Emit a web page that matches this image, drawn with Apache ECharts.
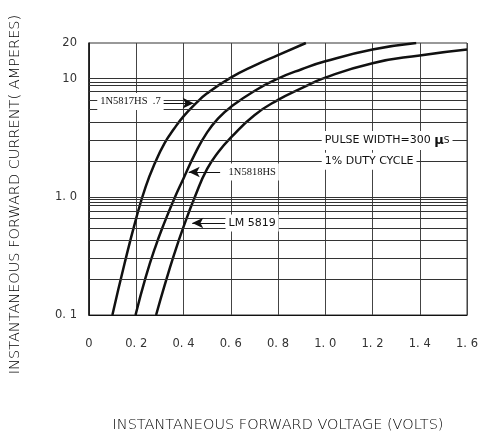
<!DOCTYPE html>
<html><head><meta charset="utf-8">
<script src="https://cdn.jsdelivr.net/npm/echarts@6/dist/echarts.min.js"></script>
<style>html,body{margin:0;padding:0;background:#fff}#c{width:481px;height:438px}</style>
</head><body><div id="c"></div>
<script>
// ---- data ----
const seriesNames = ['1N5817HS', '1N5818HS', 'LM 5819'];
const v1817 = [0.099, 0.15, 0.20, 0.24, 0.28, 0.32, 0.36, 0.40, 0.45, 0.50, 0.60, 0.70, 0.80, 0.918];
const i1817 = [0.10, 0.27, 0.66, 1.22, 1.95, 2.85, 3.76, 4.79, 6.1, 7.5, 10.2, 12.9, 15.8, 20];
const v1818 = [0.197, 0.24, 0.28, 0.32, 0.36, 0.40, 0.45, 0.50, 0.55, 0.60, 0.70, 0.80, 0.90, 1.0, 1.2, 1.385];
const i1818 = [0.10, 0.209, 0.372, 0.61, 0.955, 1.43, 2.34, 3.51, 4.68, 5.75, 7.85, 10.0, 12.0, 14.0, 17.6, 20];
const v5819 = [0.284, 0.32, 0.36, 0.40, 0.45, 0.50, 0.55, 0.60, 0.70, 0.80, 0.90, 1.0, 1.2, 1.4, 1.6];
const i5819 = [0.10, 0.178, 0.324, 0.556, 1.02, 1.72, 2.43, 3.16, 4.9, 6.6, 8.3, 10.2, 13.5, 15.7, 17.6];
const xTickLabels = ['0', '0. 2', '0. 4', '0. 6', '0. 8', '1. 0', '1. 2', '1. 4', '1. 6'];
const yTickValues = [0.1, 1, 10, 20];
const yTickLabels = ['0. 1', '1. 0', '10', '20'];
const hGridValues = [10, 9.4, 8.8, 7.8, 6.5, 5.5, 4.3, 3, 2, 1, 0.95, 0.9, 0.84, 0.76, 0.66, 0.54, 0.43, 0.3, 0.2];

const pairs = (xs, ys) => xs.map((x, k) => [x, ys[k]]);
const SANS = 'DejaVu Sans';
const SERIF = 'Liberation Serif';

const curve = (name, xs, ys) => ({
  name, type: 'line', data: pairs(xs, ys), smooth: 0.5,
  symbol: 'none', z: 3, lineStyle: { color: '#111', width: 2.5 }, silent: true
});

const arrow = (from, to) => [{ coord: from }, { coord: to }];
const tag = (coord, text, font, size, rich) => ({
  coord, symbol: 'rect', symbolSize: 0,
  label: {
    show: true, position: 'right', distance: 0, formatter: text,
    fontFamily: font, fontSize: size, color: '#111',
    backgroundColor: '#fff', padding: [3, 3, 3, 3], rich: rich || {}
  }
});

const option = {
  animation: false,
  backgroundColor: '#fff',
  grid: { left: 87, right: 11, top: 43, bottom: 120, show: true, borderColor: '#333', borderWidth: 1 },
  xAxis: {
    type: 'value', min: 0, max: 1.6, interval: 0.2,
    axisLine: { show: true, onZero: false, lineStyle: { color: '#111', width: 1.2 } },
    axisTick: { show: false },
    splitLine: { show: true, lineStyle: { color: '#444', width: 1 } },
    axisLabel: {
      margin: 23, fontFamily: SANS, fontSize: 11.5, color: '#333',
      formatter: v => xTickLabels[Math.round(v / 0.2)]
    },
    name: 'INSTANTANEOUS FORWARD VOLTAGE (VOLTS)', nameLocation: 'middle', nameGap: 103,
    nameTextStyle: { fontFamily: SANS, fontSize: 14.5, color: '#000', fontWeight: 200 }
  },
  yAxis: {
    type: 'log', logBase: 10, min: 0.1, max: 20,
    axisLine: { show: true, lineStyle: { color: '#111', width: 1.5 } },
    axisTick: { show: false },
    splitLine: { show: false },
    minorSplitLine: { show: false },
    axisLabel: {
      customValues: yTickValues, margin: 12, fontFamily: SANS, fontSize: 11.5, color: '#333',
      formatter: v => {
        let best = 0;
        yTickValues.forEach((t, k) => { if (Math.abs(Math.log10(t) - Math.log10(v)) < Math.abs(Math.log10(yTickValues[best]) - Math.log10(v))) best = k; });
        return yTickLabels[best];
      }
    },
    name: 'INSTANTANEOUS FORWARD CURRENT( AMPERES)', nameLocation: 'middle', nameGap: 66,
    nameTextStyle: { fontFamily: SANS, fontSize: 14.5, color: '#000', fontWeight: 200, padding: [0, 31, 0, 0] }
  },
  series: [
    {
      name: 'grid', type: 'line', data: [], z: 1, silent: true,
      markLine: {
        silent: true, symbol: 'none', animation: false,
        label: { show: false },
        lineStyle: { color: '#333', width: 1, type: 'solid' },
        data: hGridValues.map(v => ({ yAxis: v }))
      }
    },
    curve(seriesNames[0], v1817, i1817),
    curve(seriesNames[1], v1818, i1818),
    curve(seriesNames[2], v5819, i5819),
    {
      name: 'notes', type: 'line', data: [], z: 5, silent: true,
      markLine: {
        silent: true, symbol: ['none', 'arrow'], symbolSize: [8, 11], animation: false,
        label: { show: false },
        lineStyle: { color: '#111', width: 1, type: 'solid' },
        data: [
          arrow([0.297, 6.2], [0.443, 6.2]),
          arrow([0.555, 1.62], [0.422, 1.62]),
          arrow([0.576, 0.6], [0.437, 0.6])
        ]
      },
      markPoint: {
        silent: true, animation: false,
        data: [
          tag([0.035, 6.4], '1N5817HS  .7', SERIF, 10.5),
          tag([0.578, 1.62], '1N5818HS', SERIF, 10.5),
          tag([0.578, 0.6], 'LM 5819', SANS, 11),
          tag([0.985, 3.0], 'PULSE WIDTH=300 {mu|µ}{s|S}', SANS, 11, {
            mu: { fontFamily: SANS, fontSize: 13, fontWeight: 'bold', color: '#111' },
            s: { fontFamily: SANS, fontSize: 9, color: '#111' }
          }),
          tag([0.985, 2.0], '1% DUTY CYCLE', SANS, 11)
        ]
      }
    }
  ]
};

const chart = echarts.init(document.getElementById('c'), null, { renderer: 'canvas' });
chart.setOption(option);
</script>
</body></html>
